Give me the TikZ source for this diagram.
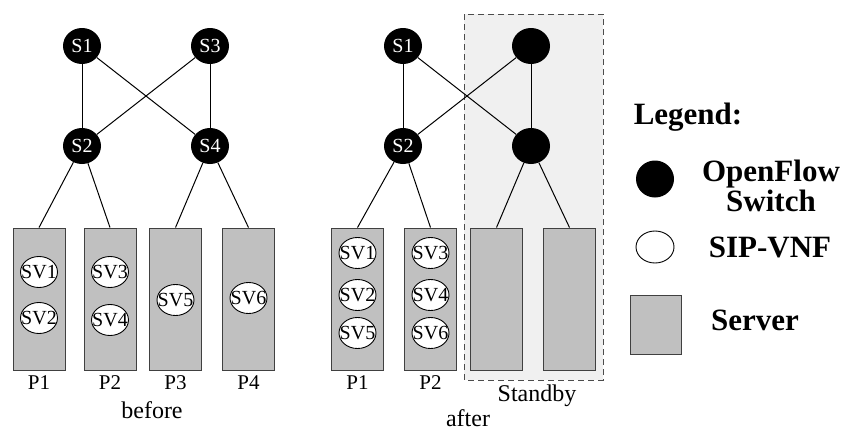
\documentclass[tikz,border=0pt]{standalone}
\usepackage{fontspec}
\setmainfont{Liberation Serif}
\usetikzlibrary{shapes.geometric}
\definecolor{srvgray}{HTML}{C0C0C0}
\definecolor{sbygray}{HTML}{F0F0F0}
\tikzset{
  switch/.style={ellipse, fill=black, text=white, minimum width=38pt, minimum height=36pt, inner sep=0pt, font=\fontsize{20}{20}\selectfont},
  server/.style={draw=black!75, line width=0.9pt, fill=srvgray, minimum width=52pt, minimum height=142pt, inner sep=0pt},
  vnf/.style={ellipse, draw=black, line width=0.9pt, fill=white, minimum width=37pt, minimum height=31pt, inner sep=0pt, label={[font=\fontsize{20}{20}\selectfont, inner sep=0pt]center:#1}},
  plabel/.style={font=\fontsize{21}{21}\selectfont, inner sep=0pt},
  caption/.style={font=\fontsize{24}{24}\selectfont, inner sep=0pt},
  legtext/.style={font=\fontsize{31}{30}\selectfont\bfseries, inner sep=0pt, align=center},
  link/.style={line width=1pt}
}
\begin{document}
\begin{tikzpicture}[x=1pt,y=-1pt]
        \useasboundingbox (0,0) rectangle (845,431);
        % standby area
        \draw[dash pattern=on 6pt off 4pt, line width=0.9pt, draw=black!70, fill=sbygray] (464,14) rectangle (603,380);
        % before
        \node[server] (bp1) at (39,299) {};
        \node[server] (bp2) at (110,299) {};
        \node[server] (bp3) at (175.5,299) {};
        \node[server] (bp4) at (248.5,299) {};
        \node[switch] (bs1) at (82,46) {S1};
        \node[switch] (bs3) at (210,46) {S3};
        \node[switch] (bs2) at (82,146) {S2};
        \node[switch] (bs4) at (210,146) {S4};
        \draw[link] (bs1) -- (bs2);
        \draw[link] (bs1) -- (bs4);
        \draw[link] (bs3) -- (bs2);
        \draw[link] (bs3) -- (bs4);
        \draw[link] (bs2) -- (bp1.north);
        \draw[link] (bs2) -- (bp2.north);
        \draw[link] (bs4) -- (bp3.north);
        \draw[link] (bs4) -- (bp4.north);
        \node[vnf=SV1] (bsv1) at (39,272) {};
        \node[vnf=SV2] (bsv2) at (39,318) {};
        \node[vnf=SV3] (bsv3) at (110,272) {};
        \node[vnf=SV4] (bsv4) at (110,320) {};
        \node[vnf=SV5] (bsv5) at (175.5,300) {};
        \node[vnf=SV6] (bsv6) at (248.5,298) {};
        \node[plabel] (bl1) at (39,383) {P1};
        \node[plabel] (bl2) at (110,383) {P2};
        \node[plabel] (bl3) at (175.5,383) {P3};
        \node[plabel] (bl4) at (248.5,383) {P4};
        \node[caption] (before) at (152,410) {before};
        % after
        \node[server] (ap1) at (357.5,299) {};
        \node[server] (ap2) at (430.5,299) {};
        \node[server] (ap3) at (496.5,299) {};
        \node[server] (ap4) at (569.5,299) {};
        \node[switch] (as1) at (403,46) {S1};
        \node[switch] (as3) at (531,46) {};
        \node[switch] (as2) at (403,146) {S2};
        \node[switch] (as4) at (531,146) {};
        \draw[link] (as1) -- (as2);
        \draw[link] (as1) -- (as4);
        \draw[link] (as3) -- (as2);
        \draw[link] (as3) -- (as4);
        \draw[link] (as2) -- (ap1.north);
        \draw[link] (as2) -- (ap2.north);
        \draw[link] (as4) -- (ap3.north);
        \draw[link] (as4) -- (ap4.north);
        \node[vnf=SV1] (asv1) at (357.5,253) {};
        \node[vnf=SV2] (asv2) at (357.5,295) {};
        \node[vnf=SV5] (asv5) at (357.5,333) {};
        \node[vnf=SV3] (asv3) at (430.5,253) {};
        \node[vnf=SV4] (asv4) at (430.5,295) {};
        \node[vnf=SV6] (asv6) at (430.5,333) {};
        \node[plabel] (al1) at (357.5,383) {P1};
        \node[plabel] (al2) at (430.5,383) {P2};
        \node[caption] (standby) at (537,396) {Standby};
        \node[caption] (after) at (468,418) {after};
        % legend
        \node[legtext] (legend) at (688,117) {Legend:};
        \node[switch, minimum height=37pt] (kswitch) at (655,179) {};
        \node[legtext] (tswitch) at (771,186) {OpenFlow\\Switch};
        \node[vnf={}, minimum width=38pt, minimum height=32pt] (kvnf) at (655,247) {};
        \node[legtext] (tvnf) at (770,247) {SIP-VNF};
        \node[server, minimum width=51pt, minimum height=59pt] (kserver) at (655.5,324.5) {};
        \node[legtext] (tserver) at (755,320) {Server};
      \end{tikzpicture}
\end{document}
